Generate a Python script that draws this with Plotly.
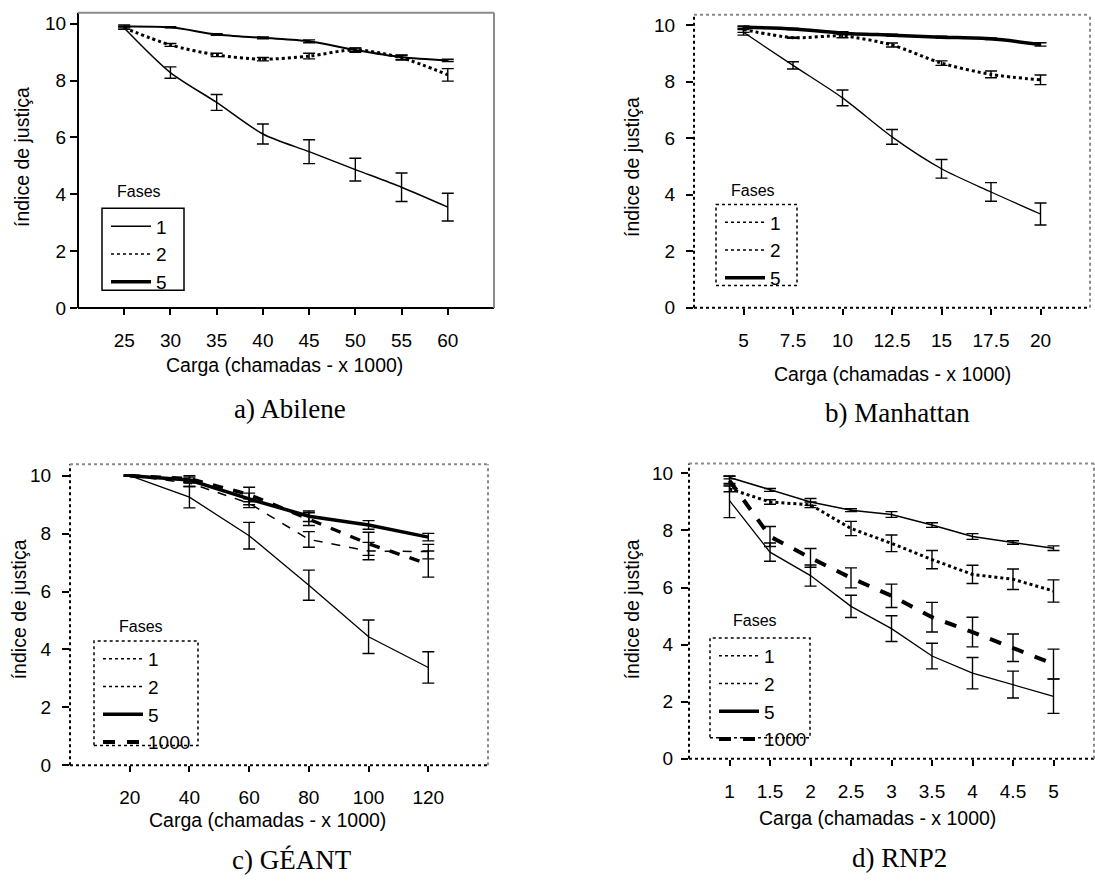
import plotly.graph_objects as go

W, H = 1095, 883

# ---------------- data ----------------
a_x = [25, 30, 35, 40, 45, 50, 55, 60]
a_labels = ["25", "30", "35", "40", "45", "50", "55", "60"]
a_f1 = [9.85, 8.28, 7.23, 6.12, 5.5, 4.87, 4.25, 3.55]
a_f1_err = [0.05, 0.2, 0.28, 0.35, 0.42, 0.4, 0.5, 0.49]
a_f2 = [9.85, 9.25, 8.9, 8.75, 8.86, 9.08, 8.8, 8.2]
a_f2_err = [0.05, 0.05, 0.06, 0.06, 0.1, 0.06, 0.08, 0.22]
a_f5 = [9.9, 9.87, 9.62, 9.5, 9.38, 9.07, 8.82, 8.71]
a_f5_err = [0.05, 0.02, 0.03, 0.03, 0.05, 0.08, 0.08, 0.04]

b_x = [5, 7.5, 10, 12.5, 15, 17.5, 20]
b_labels = ["5", "7.5", "10", "12.5", "15", "17.5", "20"]
b_f1 = [9.75, 8.58, 7.43, 6.05, 4.92, 4.1, 3.32]
b_f1_err = [0.1, 0.13, 0.28, 0.26, 0.33, 0.33, 0.39]
b_f2 = [9.85, 9.56, 9.62, 9.3, 8.66, 8.26, 8.07]
b_f2_err = [0.1, 0.02, 0.06, 0.07, 0.08, 0.12, 0.17]
b_f5 = [9.93, 9.87, 9.72, 9.65, 9.58, 9.52, 9.32]
b_f5_err = [0.05, 0.02, 0.05, 0.03, 0.03, 0.03, 0.06]

c_x = [20, 40, 60, 80, 100, 120]
c_labels = ["20", "40", "60", "80", "100", "120"]
c_f1 = [10, 9.26, 7.93, 6.22, 4.44, 3.38]
c_f1_err = [0.02, 0.37, 0.46, 0.52, 0.58, 0.54]
c_f2 = [10, 9.75, 9.05, 7.8, 7.4, 7.38]
c_f2_err = [0.02, 0.12, 0.15, 0.27, 0.3, 0.25]
c_f5 = [10, 9.85, 9.2, 8.6, 8.3, 7.88]
c_f5_err = [0.02, 0.1, 0.2, 0.18, 0.15, 0.13]
c_f1000 = [10, 9.9, 9.35, 8.5, 7.65, 6.95]
c_f1000_err = [0.02, 0.1, 0.25, 0.22, 0.4, 0.45]

d_x = [1, 1.5, 2, 2.5, 3, 3.5, 4, 4.5, 5]
d_labels = ["1", "1.5", "2", "2.5", "3", "3.5", "4", "4.5", "5"]
d_f1 = [9.05, 7.24, 6.42, 5.34, 4.56, 3.6, 3.0, 2.6, 2.19]
d_f1_err = [0.6, 0.32, 0.37, 0.39, 0.45, 0.45, 0.55, 0.47, 0.6]
d_f2 = [9.46, 9.0, 8.9, 8.07, 7.55, 6.98, 6.46, 6.29, 5.88]
d_f2_err = [0.1, 0.08, 0.1, 0.25, 0.29, 0.32, 0.32, 0.36, 0.39]
d_f5 = [9.86, 9.42, 9.0, 8.71, 8.56, 8.19, 7.79, 7.58, 7.38]
d_f5_err = [0.05, 0.05, 0.12, 0.05, 0.1, 0.08, 0.1, 0.06, 0.08]
d_f1000 = [9.75, 7.79, 7.04, 6.34, 5.71, 4.96, 4.44, 3.89, 3.32]
d_f1000_err = [0.15, 0.35, 0.33, 0.35, 0.41, 0.52, 0.52, 0.48, 0.52]

y_ticks = [0, 2, 4, 6, 8, 10]
x_title = "Carga (chamadas - x 1000)"
y_title = "índice de justiça"
legend_title = "Fases"
captions = ["a) Abilene", "b) Manhattan", "c) GÉANT", "d) RNP2"]

FONT = "Liberation Sans, Arial, sans-serif"
SERIF = "Liberation Serif, Times New Roman, serif"


def xd(l, r):
    return [l / W, r / W]


def yd(top, bottom):
    return [1 - bottom / H, 1 - top / H]


fig = go.Figure()


def err(arr):
    return dict(type="data", array=arr, visible=True, color="black",
                thickness=1.4, width=6)


def add_series(ax, x, y, e, dash, width, shape):
    fig.add_trace(go.Scatter(
        x=x, y=y, mode="lines", error_y=err(e),
        line=dict(color="black", width=width, dash=dash, shape=shape, smoothing=0.8),
        showlegend=False, xaxis="x" + ax, yaxis="y" + ax))


def add_legend_entry(ax, leg, name, dash, width):
    fig.add_trace(go.Scatter(
        x=[None], y=[None], mode="lines", name=name,
        line=dict(color="black", width=width, dash=dash),
        legend=leg, showlegend=True, xaxis="x" + ax, yaxis="y" + ax))


# panel a
add_series("", a_x, a_f1, a_f1_err, "solid", 1.5, "spline")
add_series("", a_x, a_f2, a_f2_err, "dot", 3, "spline")
add_series("", a_x, a_f5, a_f5_err, "solid", 2, "spline")
add_legend_entry("", "legend", "1", "solid", 1.5)
add_legend_entry("", "legend", "2", "dot", 1.5)
add_legend_entry("", "legend", "5", "solid", 3.5)

# panel b
add_series("2", b_x, b_f1, b_f1_err, "solid", 1.3, "spline")
add_series("2", b_x, b_f2, b_f2_err, "dot", 3, "spline")
add_series("2", b_x, b_f5, b_f5_err, "solid", 3.5, "spline")
add_legend_entry("2", "legend2", "1", "dot", 1.5)
add_legend_entry("2", "legend2", "2", "dot", 1.5)
add_legend_entry("2", "legend2", "5", "solid", 3.5)

# panel c
add_series("3", c_x, c_f1, c_f1_err, "solid", 1.3, "linear")
add_series("3", c_x, c_f2, c_f2_err, "dash", 1.5, "linear")
add_series("3", c_x, c_f5, c_f5_err, "solid", 3.5, "linear")
add_series("3", c_x, c_f1000, c_f1000_err, "dash", 3.5, "linear")
add_legend_entry("3", "legend3", "1", "dot", 1.5)
add_legend_entry("3", "legend3", "2", "dot", 1.5)
add_legend_entry("3", "legend3", "5", "solid", 3.5)
add_legend_entry("3", "legend3", "1000", "dash", 4)

# panel d
add_series("4", d_x, d_f1, d_f1_err, "solid", 1.3, "linear")
add_series("4", d_x, d_f2, d_f2_err, "dot", 3, "linear")
add_series("4", d_x, d_f5, d_f5_err, "solid", 1.5, "linear")
add_series("4", d_x, d_f1000, d_f1000_err, "dash", 4, "linear")
add_legend_entry("4", "legend4", "1", "dot", 1.5)
add_legend_entry("4", "legend4", "2", "dot", 1.5)
add_legend_entry("4", "legend4", "5", "solid", 3.5)
add_legend_entry("4", "legend4", "1000", "dash", 4)

panels = [
    # suffix, xdomain px, ydomain px (top,bottom), xrange, yrange top, tickvals, ticktext, y standoff, border dash
    ("", (78, 494), (13, 312), [20, 65], 10.38, a_x, a_labels, 0, "solid"),
    ("2", (694, 1090), (15, 311.7), [2.5, 22.5], 10.37, b_x, b_labels, 7, "dot"),
    ("3", (70, 488), (470, 775), [0, 140], 10.4, c_x, c_labels, 7, "dot"),
    ("4", (689, 1094), (469.3, 768.3), [0.5, 5.5], 10.35, d_x, d_labels, 4, "dot"),
]

layout = dict(
    width=W, height=H, autosize=False,
    margin=dict(l=0, r=0, t=0, b=0),
    paper_bgcolor="white", plot_bgcolor="white",
    font=dict(family=FONT, color="black", size=18),
)
shapes = []
for suf, xdp, ydp, xr, ytop, tv, tt, ystand, dash in panels:
    xa = "xaxis" + suf
    ya = "yaxis" + suf
    layout[xa] = dict(
        domain=xd(*xdp), range=xr, anchor="y" + suf,
        tickvals=tv, ticktext=tt, ticks="outside", ticklen=6, tickwidth=1.5,
        tickcolor="black", showgrid=False, zeroline=False, showline=False,
        tickfont=dict(size=19, family=FONT, color="black"), ticklabelstandoff=9,
    )
    layout[ya] = dict(
        domain=yd(*ydp), range=[0, ytop], anchor="x" + suf,
        tickvals=y_ticks, ticks="outside", ticklen=7, tickwidth=1.5,
        tickcolor="black", showgrid=False, zeroline=False, showline=False,
        tickfont=dict(size=19, family=FONT, color="black"),
        ticklabelstandoff=ystand,
    )
    xref = "x" + suf + " domain"
    yref = "y" + suf + " domain"
    gray = "#8a8a8a"
    for (x0, y0, x1, y1, col) in [(0, 0, 0, 1, "black"), (0, 0, 1, 0, "black"),
                                  (0, 1, 1, 1, gray), (1, 0, 1, 1, gray)]:
        shapes.append(dict(type="line", xref=xref, yref=yref, x0=x0, y0=y0, x1=x1, y1=y1,
                           line=dict(color=col, width=2, dash=dash), layer="above"))

# legend boxes (px): left, top, right, bottom ; "Fases" centre
leg_boxes = [
    ("legend", (102, 211, 184, 294), "solid", (139, 194)),
    ("legend2", (716, 207, 797, 289), "dot", (753, 193)),
    ("legend3", (94, 649, 198, 755), "dot", (141, 634)),
    ("legend4", (710, 646, 810, 747), "dot", (755, 628)),
]
annotations = []
for name, (l, t, r, b), dash, (fx, fy) in leg_boxes:
    shapes.append(dict(type="rect", xref="paper", yref="paper",
                       x0=l / W, x1=r / W, y0=1 - b / H, y1=1 - t / H,
                       line=dict(color="black", width=1.5, dash=dash)))
    layout[name] = dict(
        x=(l + 4) / W, y=1 - (t - 1) / H, xanchor="left", yanchor="top",
        bgcolor="rgba(0,0,0,0)", borderwidth=0,
        font=dict(size=19, family=FONT, color="black"),
        itemwidth=40, tracegroupgap=0,
    )
    annotations.append(dict(text=legend_title, xref="paper", yref="paper",
                            x=fx / W, y=1 - fy / H, xanchor="center", yanchor="middle",
                            showarrow=False,
                            font=dict(size=16, family=FONT, color="black")))

# axis titles and captions (centre positions in px)
x_title_pos = [(284.5, 370), (892, 379), (267, 830), (877, 828)]
y_title_pos = [(22, 159), (632, 169), (19, 617), (632, 617)]
caption_pos = [(290, 414), (897, 418), (292, 871), (899, 869)]
for (xx, yy) in x_title_pos:
    annotations.append(dict(text=x_title, xref="paper", yref="paper", x=xx / W, y=1 - yy / H,
                            xanchor="center", yanchor="middle",
                            showarrow=False, font=dict(size=19.5, family=FONT, color="black")))
for (xx, yy) in y_title_pos:
    annotations.append(dict(text=y_title, xref="paper", yref="paper", x=xx / W, y=1 - yy / H,
                            xanchor="center", yanchor="middle",
                            textangle=-90, showarrow=False,
                            font=dict(size=19.5, family=FONT, color="black")))
for cap, (xx, yy) in zip(captions, caption_pos):
    annotations.append(dict(text=cap, xref="paper", yref="paper", x=xx / W, y=1 - yy / H,
                            xanchor="center", yanchor="middle",
                            showarrow=False, font=dict(size=27, family=SERIF, color="black")))

layout["shapes"] = shapes
layout["annotations"] = annotations
fig.update_layout(**layout)
fig.write_html("out.html")
